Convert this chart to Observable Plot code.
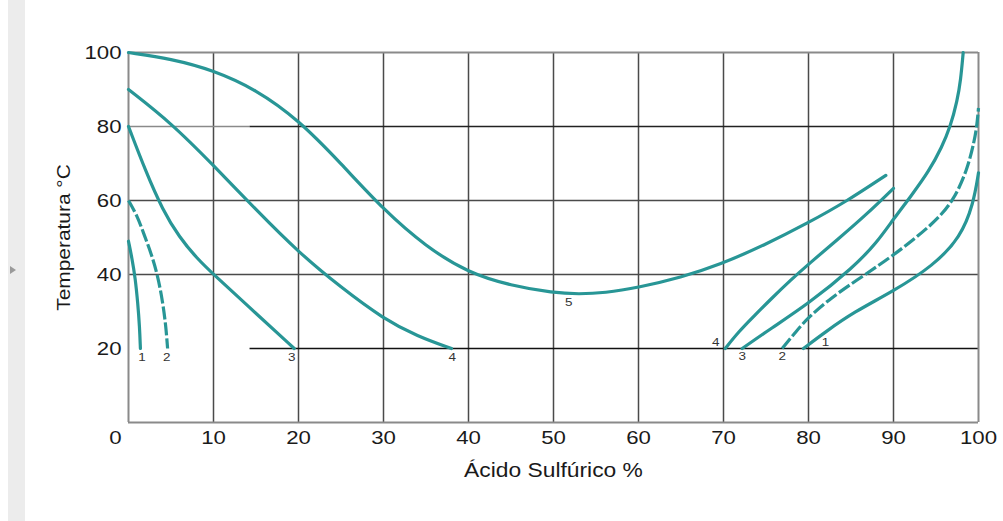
<!DOCTYPE html>
<html>
<head>
<meta charset="utf-8">
<script src="https://cdn.jsdelivr.net/npm/d3@7"></script>
<script src="https://cdn.jsdelivr.net/npm/@observablehq/plot@0.6"></script>
<style>
  html, body { margin: 0; padding: 0; background: #fff; }
  #wrap { position: relative; width: 1003px; height: 521px; overflow: hidden; }
  #strip { position: absolute; left: 8px; top: 0; width: 17px; height: 521px; background: #ececec; }
  #tri { position: absolute; left: 10px; top: 266px; width: 0; height: 0;
         border-top: 4px solid transparent; border-bottom: 4px solid transparent; border-left: 6px solid #9a9a9a; }
  #chart { position: absolute; left: 0; top: 0; }
</style>
</head>
<body>
<div id="wrap"><div id="strip"></div><div id="tri"></div><div id="chart"></div></div>
<script>
// ---- Data (Ácido Sulfúrico %, Temperatura °C) ----
const xTicks = [0, 10, 20, 30, 40, 50, 60, 70, 80, 90, 100];
const yTicks = [20, 40, 60, 80, 100];

const curve1Left = [[0,49],[0.4,44.5],[0.8,39],[1.1,32],[1.3,26],[1.4,20]];
const curve2Left = [[0,60],[1,56],[1.8,51],[2.7,45.5],[3.4,40],[4,33],[4.4,26],[4.6,20]];
const curve3Left = [[0,80],[2,68],[4,57.5],[6,50],[8,44.5],[10,40],[15,29.5],[19.5,20]];
const curve4Left = [[0,90],[5,81],[10,69.5],[15,57.5],[20,46],[25,36.5],[30,28],[34,23.3],[38,20]];
const curve5 = [[0,100],[5,98.3],[10,95.2],[15,90],[20,81.8],[25,70],[30,57.5],[35,47.5],[40,40.4],[45,37],[50,35],[53,34.7],[56,35],[60,36.5],[65,39.2],[69.6,42.7],[74.7,47.8],[80,54],[84.5,59.8],[89.1,66.8]];
const curve4Right = [[70.2,20],[71.8,24.6],[73.6,28.8],[75.5,33.2],[78,38.7],[80,42.8],[83.4,49.4],[86.9,56.4],[90,63.3]];
const curve3Right = [[72.2,20],[75.5,25.3],[80,32.1],[85.3,42],[88,48.5],[90,55],[92,61],[94.2,68],[95.7,74.5],[96.7,80],[97.5,87],[97.9,92.4],[98.2,100]];
const curve2Right = [[76.9,20],[78.5,24.5],[80,28.5],[82.8,33.9],[85.3,37.9],[90,45.1],[94.7,53.7],[97.1,60],[98.7,68.5],[99.5,76],[99.8,80],[100,85]];
const curve1Right = [[79.4,20],[82,24.5],[85.3,29.8],[90,35.5],[94.7,42.4],[97.9,50.1],[99.4,59.1],[100,67.5]];

const labelText = ["1", "2", "3", "4", "5", "4", "3", "2", "1"];
const labelX =    [1.6, 4.5, 19.2, 38.1, 51.8, 69.1, 72.2, 76.9, 82];
const labelY =    [17.6, 17.6, 17.6, 17.6, 32.4, 21.7, 17.8, 17.8, 21.7];

const xLabel = "Ácido Sulfúrico %";
const yLabel = "Temperatura °C";

// ---- Build ----
const teal = "#289696";
const labels = labelText.map((t, i) => ({text: t, x: labelX[i], y: labelY[i]}));
const gridX = xTicks.filter(v => v > 0 && v < 100);

const solid = [curve1Left, curve3Left, curve4Left, curve5, curve4Right, curve3Right, curve1Right];
const dashed = [curve2Left, curve2Right];

const lineOpts = {x: d => d[0], y: d => d[1], curve: "basis", stroke: teal, strokeWidth: 3.2, strokeLinecap: "round"};

const chart = Plot.plot({
  width: 1003,
  height: 521,
  marginLeft: 128,
  marginRight: 25,
  marginTop: 52,
  marginBottom: 99,
  style: {fontFamily: "'Liberation Sans', Arial, sans-serif", background: "transparent", color: "#1a1a1a"},
  x: {domain: [0, 100]},
  y: {domain: [0, 100]},
  marks: [
    Plot.ruleX(gridX, {y1: 0, y2: 100, stroke: "#4a4a4a", strokeWidth: 1.5}),
    Plot.ruleY([40, 60], {x1: 0, x2: 100, stroke: "#4a4a4a", strokeWidth: 1.5}),
    Plot.ruleY([80], {x1: 0, x2: 14.3, stroke: "#8a8a8a", strokeWidth: 1.5}),
    Plot.ruleY([80], {x1: 14.3, x2: 100, stroke: "#222", strokeWidth: 1.3}),
    Plot.ruleY([20], {x1: 14.3, x2: 100, stroke: "#111", strokeWidth: 1.3}),
    Plot.ruleX([0, 100], {y1: 0, y2: 100, stroke: "#8a8a8a", strokeWidth: 2}),
    Plot.ruleY([0, 100], {x1: 0, x2: 100, stroke: "#8a8a8a", strokeWidth: 2}),
    ...solid.map(c => Plot.line(c, lineOpts)),
    ...dashed.map(c => Plot.line(c, {...lineOpts, strokeDasharray: "13,3", strokeLinecap: "butt"})),
    Plot.text(labels, {x: "x", y: "y", text: "text", fontSize: 11.5, fill: "#333"}),
    Plot.axisY({ticks: yTicks, tickSize: 0, tickPadding: 7, fontSize: 19, label: null}),
    Plot.axisX({ticks: xTicks.filter(v => v > 0), tickSize: 0, tickPadding: 8, fontSize: 19, label: null}),
    Plot.text([xTicks[0]], {x: d => d, frameAnchor: "bottom", lineAnchor: "middle", dy: 15, dx: -13, text: d => String(d), fontSize: 19}),
    Plot.text([xLabel], {frameAnchor: "bottom", lineAnchor: "middle", textAnchor: "middle", dy: 48, text: d => d, fontSize: 19.5}),
    Plot.text([yLabel], {frameAnchor: "left", textAnchor: "middle", lineAnchor: "middle", dx: -65, rotate: -90, text: d => d, fontSize: 19})
  ]
});

document.getElementById("chart").appendChild(chart);

// the reference's lettering is horizontally widened
chart.querySelectorAll("text").forEach(t => {
  const tr = t.getAttribute("transform") || "";
  const w = t.getComputedTextLength();
  if (!(w > 0)) return;
  const k = tr.includes("rotate") ? 1.1 : 1.17;
  t.setAttribute("textLength", (w * k).toFixed(1));
  t.setAttribute("lengthAdjust", "spacingAndGlyphs");
});
</script>
</body>
</html>
